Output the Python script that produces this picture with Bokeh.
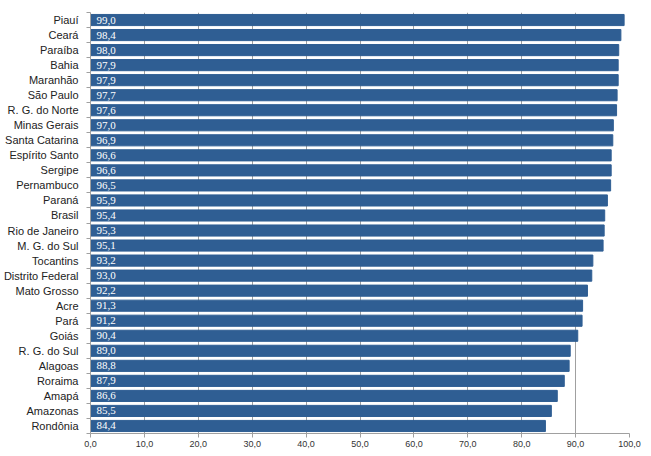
from bokeh.plotting import figure
from bokeh.models import ColumnDataSource, FixedTicker, Range1d, LabelSet
from bokeh.embed import file_html
from bokeh.resources import INLINE

states = ["Piauí", "Ceará", "Paraíba", "Bahia", "Maranhão", "São Paulo", "R. G. do Norte",
          "Minas Gerais", "Santa Catarina", "Espírito Santo", "Sergipe", "Pernambuco", "Paraná",
          "Brasil", "Rio de Janeiro", "M. G. do Sul", "Tocantins", "Distrito Federal",
          "Mato Grosso", "Acre", "Pará", "Goiás", "R. G. do Sul", "Alagoas", "Roraima",
          "Amapá", "Amazonas", "Rondônia"]
values = [99.0, 98.4, 98.0, 97.9, 97.9, 97.7, 97.6, 97.0, 96.9, 96.6, 96.6, 96.5, 95.9,
          95.4, 95.3, 95.1, 93.2, 93.0, 92.2, 91.3, 91.2, 90.4, 89.0, 88.8, 87.9,
          86.6, 85.5, 84.4]
x_ticks = [0, 10, 20, 30, 40, 50, 60, 70, 80, 90, 100]
x_tick_labels = ["0,0", "10,0", "20,0", "30,0", "40,0", "50,0", "60,0", "70,0", "80,0", "90,0", "100,0"]

n = len(states)
ypos = [i + 0.5 for i in range(n)]
labels = [f"{v:.1f}".replace(".", ",") for v in values]

src = ColumnDataSource(dict(y=ypos, v=values, lab=labels, zero=[0] * n))

FONT = "Liberation Sans"
p = figure(width=651, height=456, output_backend="svg", toolbar_location=None,
           x_range=Range1d(0, 100), y_range=Range1d(n, 0),
           min_border_left=90, min_border_right=22, min_border_top=12, min_border_bottom=23)
p.outline_line_color = None
p.background_fill_color = "white"
p.border_fill_color = "white"

p.hbar(y="y", left=0, right="v", height=0.74, source=src, color="#2f5e93")

p.add_layout(LabelSet(x="zero", y="y", text="lab", source=src, x_offset=6, y_offset=0,
                      text_color="white", text_font=FONT, text_font_size="11px",
                      text_baseline="middle", text_align="left"))

# x axis
p.xaxis.ticker = FixedTicker(ticks=x_ticks)
p.xaxis.major_label_overrides = {t: l for t, l in zip(x_ticks, x_tick_labels)}
p.xaxis.major_label_text_font = FONT
p.xaxis.major_label_text_font_size = "9px"
p.xaxis.major_label_text_color = "#333333"
p.xaxis.axis_line_color = "#a0a0a0"
p.xaxis.major_tick_line_color = "#a0a0a0"
p.xaxis.major_tick_out = 4
p.xaxis.major_tick_in = 0
p.xaxis.minor_tick_line_color = None
p.xaxis.major_label_standoff = 3

# y axis
p.yaxis.ticker = FixedTicker(ticks=ypos, minor_ticks=list(range(n + 1)))
p.yaxis.major_label_overrides = {y: s for y, s in zip(ypos, states)}
p.yaxis.major_label_text_font = FONT
p.yaxis.major_label_text_font_size = "11px"
p.yaxis.major_label_text_color = "#222222"
p.yaxis.axis_line_color = "#a0a0a0"
p.yaxis.major_tick_line_color = None
p.yaxis.minor_tick_line_color = "#a0a0a0"
p.yaxis.minor_tick_out = 4
p.yaxis.minor_tick_in = 0
p.yaxis.major_label_standoff = 6

p.xgrid.ticker = FixedTicker(ticks=x_ticks)
p.xgrid.grid_line_color = "#a0a0a0"
p.ygrid.grid_line_color = None

open("out.html", "w").write(file_html(p, INLINE))
